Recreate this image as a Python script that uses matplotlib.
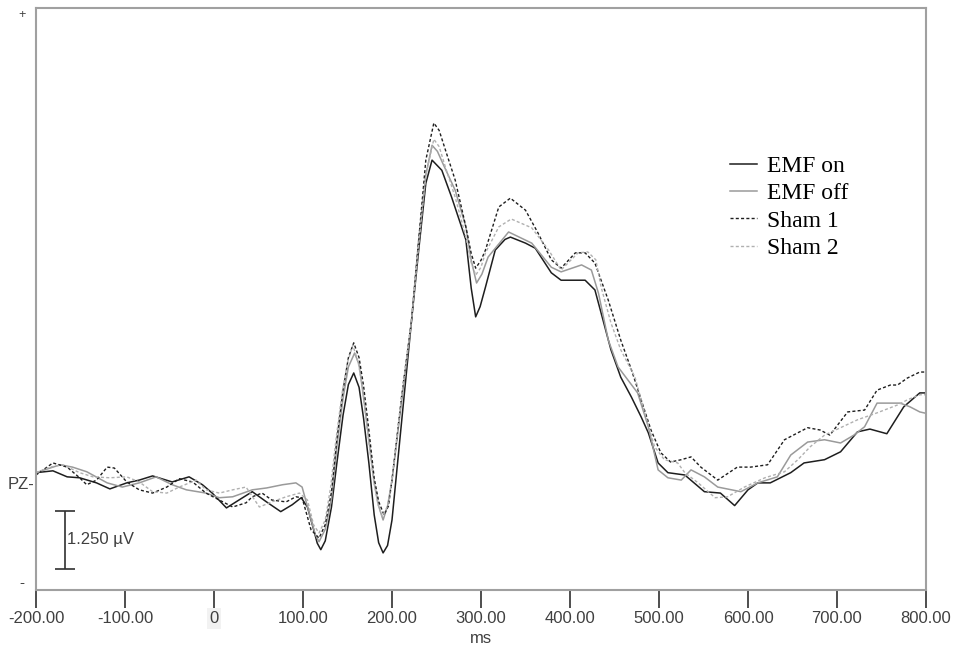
import matplotlib.pyplot as plt
import numpy as np

# ERP traces at PZ (ms, µV)
t_on = [-200, -181, -165, -151, -132, -117, -98, -84, -69, -47, -28, -13, -2, 14, 28, 43, 59, 75, 88, 98,
        105, 112, 116, 120, 125, 132, 138, 145, 151, 157, 163, 168, 174, 180, 185, 190, 195, 200, 211, 222,
        230, 238, 245, 256, 267, 283, 289, 294, 299, 305, 316, 327, 333,
        350, 361, 379, 390, 417, 428, 435, 446, 457, 469, 480, 488, 499, 510, 529, 551, 569, 585, 600, 611,
        625, 648, 663, 686, 704, 723, 737, 756, 775, 793, 800]
v_on = [0.22, 0.26, 0.13, 0.11, 0.00, -0.13, 0.00, 0.06, 0.15, 0.02, 0.13, -0.04, -0.22, -0.54, -0.37, -0.19, -0.41, -0.62, -0.47, -0.32,
        -0.52, -1.01, -1.30, -1.44, -1.25, -0.52, 0.42, 1.46, 2.12, 2.37, 2.06, 1.40, 0.43, -0.69, -1.29, -1.51, -1.35, -0.80, 1.36, 3.51,
        5.02, 6.46, 6.96, 6.74, 6.16, 5.24, 4.20, 3.58, 3.80, 4.22, 5.02, 5.25, 5.30,
        5.17, 5.06, 4.53, 4.37, 4.37, 4.16, 3.66, 2.87, 2.28, 1.85, 1.42, 1.08, 0.43, 0.22, 0.17, -0.19, -0.22, -0.49, -0.15, 0.00,
        0.00, 0.22, 0.43, 0.50, 0.67, 1.10, 1.16, 1.06, 1.64, 1.94, 1.94]

t_off = [-200, -173, -159, -143, -120, -103, -84, -65, -47, -31, -9, 6, 21, 43, 59, 77, 92, 99, 110, 114,
         118, 125, 132, 138, 145, 151, 158, 163, 168, 174, 180, 185, 190, 195, 200, 211, 222, 230, 238, 245,
         251, 258, 271, 283, 289, 295, 301, 308, 331, 357, 379, 390, 413, 424,
         432, 443, 454, 465, 476, 488, 499, 510, 525, 536, 551, 566, 592, 611, 633, 648, 667, 686, 704, 719,
         731, 745, 771, 782, 793, 800]
v_off = [0.22, 0.39, 0.34, 0.24, 0.00, -0.09, 0.00, 0.13, -0.04, -0.15, -0.22, -0.32, -0.30, -0.15, -0.11, -0.04, 0.00, -0.09, -0.86, -1.12,
         -1.27, -1.00, -0.35, 0.77, 1.83, 2.50, 2.80, 2.55, 1.85, 0.93, 0.00, -0.50, -0.80, -0.50, 0.06, 1.79, 3.51, 5.24, 6.64, 7.28,
         7.15, 6.85, 6.31, 5.52, 4.80, 4.31, 4.50, 4.87, 5.41, 5.17, 4.65, 4.55, 4.70, 4.59,
         4.09, 3.08, 2.50, 2.22, 1.94, 1.21, 0.28, 0.11, 0.06, 0.28, 0.13, -0.09, -0.19, 0.00, 0.13, 0.60, 0.88, 0.93, 0.86, 1.03,
         1.21, 1.72, 1.72, 1.64, 1.53, 1.50]

t_sh1 = [-200, -181, -165, -151, -143, -132, -120, -112, -98, -84, -69, -53, -39, -24, -9, 6, 21, 36, 43, 54,
         65, 81, 92, 99, 109, 118, 125, 132, 138, 145, 151, 157, 163, 168, 174, 180, 185, 191, 196, 200,
         211, 222, 230, 238, 247, 253, 260, 271, 283, 289, 294, 300,
         305, 320, 333, 350, 364, 379, 390, 406, 417, 428, 443, 457, 469, 480, 491, 502, 513, 525, 536, 547,
         566, 588, 603, 622, 641, 667, 681, 692, 712, 731, 745, 760, 768, 779, 793, 800]
v_sh1 = [0.17, 0.43, 0.34, 0.11, -0.04, 0.06, 0.34, 0.32, 0.02, -0.15, -0.22, -0.09, 0.09, 0.02, -0.22, -0.37, -0.52, -0.43, -0.30, -0.22,
         -0.37, -0.41, -0.30, -0.32, -1.01, -1.19, -0.90, -0.20, 0.93, 2.00, 2.70, 3.02, 2.70, 2.10, 1.14, 0.10, -0.40, -0.69, -0.50, 0.06,
         1.90, 3.51, 5.24, 6.96, 7.76, 7.60, 7.18, 6.53, 5.52, 4.95, 4.63, 4.80,
         5.02, 5.95, 6.14, 5.88, 5.39, 4.81, 4.63, 4.96, 4.96, 4.74, 3.94, 3.08, 2.44, 1.79, 1.14, 0.65, 0.45, 0.50, 0.56, 0.34,
         0.06, 0.34, 0.34, 0.39, 0.93, 1.19, 1.14, 1.03, 1.53, 1.57, 2.00, 2.11, 2.11, 2.26, 2.39, 2.39]

t_sh2 = [-200, -184, -170, -151, -136, -117, -98, -84, -69, -53, -39, -20, -9, 6, 21, 36, 51, 65, 81, 96,
         105, 112, 118, 125, 131, 137, 144, 150, 156, 162, 167, 173, 179, 184, 189, 195, 200, 211, 222, 230,
         238, 247, 253, 260, 271, 283, 289, 294, 300, 305, 320, 334,
         357, 376, 390, 409, 420, 429, 435, 446, 457, 473, 484, 495, 506, 521, 529, 544, 563, 577, 596, 619,
         641, 656, 670, 686, 704, 723, 745, 768, 779, 793, 800]
v_sh2 = [0.22, 0.34, 0.39, 0.22, 0.13, 0.11, 0.13, 0.02, -0.19, -0.22, -0.09, 0.06, -0.15, -0.22, -0.15, -0.09, -0.52, -0.41, -0.30, -0.22,
         -0.37, -0.91, -1.08, -0.80, -0.10, 0.93, 1.95, 2.60, 2.97, 2.60, 2.05, 1.03, 0.10, -0.45, -0.73, -0.50, 0.06, 1.90, 3.51, 5.13,
         6.64, 7.41, 7.25, 6.81, 6.16, 5.30, 4.75, 4.48, 4.65, 4.96, 5.52, 5.69,
         5.50, 5.02, 4.59, 4.96, 4.98, 4.81, 4.22, 3.45, 2.87, 2.28, 1.51, 0.78, 0.50, 0.43, 0.22, 0.00, -0.32, -0.30, -0.09, 0.11,
         0.24, 0.50, 0.78, 1.03, 1.19, 1.36, 1.51, 1.68, 1.79, 1.90, 1.90]

labels = ["EMF on", "EMF off", "Sham 1", "Sham 2"]
xticks = [-200, -100, 0, 100, 200, 300, 400, 500, 600, 700, 800]
xticklabels = ["-200.00", "-100.00", "0", "100.00", "200.00", "300.00",
               "400.00", "500.00", "600.00", "700.00", "800.00"]
scale_uv = 1.25

plt.rcParams['font.family'] = ['Liberation Sans', 'DejaVu Sans']

fig = plt.figure(figsize=(9.55, 6.54), dpi=100)
ax = fig.add_axes([36/955, 1-590/654, 890/955, 582/654])

ax.plot(t_on, v_on, color='#1e1e1e', lw=1.1, solid_joinstyle='round', label=labels[0])
ax.plot(t_off, v_off, color='#9a9a9a', lw=1.1, solid_joinstyle='round', label=labels[1])
ax.plot(t_sh1, v_sh1, color='#1e1e1e', lw=1.0, ls=(0, (2.2, 1.6)), label=labels[2])
ax.plot(t_sh2, v_sh2, color='#b0b0b0', lw=1.0, ls=(0, (2.2, 1.6)), label=labels[3])

ax.set_xlim(-200, 800)
ax.set_ylim(-2.31, 10.24)

# frame
for s in ax.spines.values():
    s.set_color('#a0a0a0')
    s.set_linewidth(1.5)

ax.set_xticks(xticks)
ax.set_xticklabels(xticklabels)
ax.tick_params(axis='x', direction='out', length=13, width=1.3, color='#404040',
               labelsize=12, labelcolor='#404040', pad=2)
ax.get_xticklabels()[2].set_bbox(dict(facecolor='#f2f2f2', edgecolor='none', pad=2))
ax.set_xlabel("ms", fontsize=12, color='#404040', labelpad=4)

ax.set_yticks([0])
ax.set_yticklabels(["PZ-"])
ax.tick_params(axis='y', length=0, pad=1, labelsize=12, labelcolor='#404040')

ax.text(-0.016, 0.988, "+", transform=ax.transAxes, ha='center', va='center',
        fontsize=9, color='#404040')
ax.text(-0.016, 0.012, "-", transform=ax.transAxes, ha='center', va='center',
        fontsize=11, color='#404040')

# calibration bar
bar_x = -167
bar_top = -0.60
ax.errorbar([bar_x], [bar_top - scale_uv/2], yerr=scale_uv/2, color='#303030',
            lw=1.2, capsize=7, capthick=1.2)
ax.text(bar_x + 2, bar_top - scale_uv/2, f"{scale_uv:.3f} µV", ha='left', va='center',
        fontsize=12, color='#404040')

ax.legend(loc='upper left', bbox_to_anchor=(0.78, 0.747), frameon=False,
          prop={'family': 'Liberation Serif', 'size': 17}, handlelength=1.15,
          handletextpad=0.4, labelspacing=0.25, borderpad=0, borderaxespad=0)

fig.savefig("out.png", dpi=100)
